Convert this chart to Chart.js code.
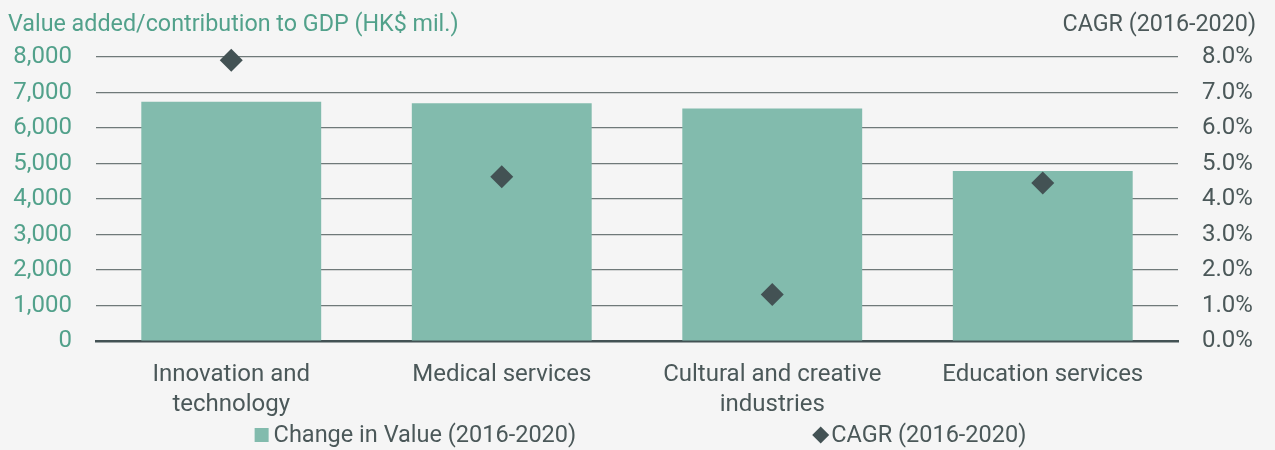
<!DOCTYPE html>
<html>
<head>
<meta charset="utf-8">
<script src="https://cdn.jsdelivr.net/npm/chart.js@4.4.1/dist/chart.umd.min.js"></script>
<style>
  html, body { margin: 0; padding: 0; background: #f5f5f5; }
  #wrap { width: 1275px; height: 450px; position: relative; }
</style>
</head>
<body>
<div id="wrap"><canvas id="gdpChart"></canvas></div>
<script>
// Sectors and their values
const categories = [
  ['Innovation and', 'technology'],
  'Medical services',
  ['Cultural and creative', 'industries'],
  'Education services'
];
const changeInValue = [6740, 6700, 6550, 4790];   // HK$ mil.
const cagr = [7.91, 4.63, 1.31, 4.45];             // %
const leftTicks = { min: 0, max: 8000, step: 1000 };
const rightTicks = { min: 0, max: 8, step: 1 };

const TEAL = '#82bbad';
const TEAL_TEXT = '#52a18b';
const DARK = '#435254';
const GREY_TEXT = '#4b5859';
const FONT = 'Roboto, "Liberation Sans", sans-serif';

// Axis titles and bottom legend
const extras = {
  id: 'extras',
  afterDraw(chart) {
    const ctx = chart.ctx;
    ctx.save();
    ctx.font = '23.3px ' + FONT;
    ctx.textBaseline = 'alphabetic';
    ctx.fillStyle = TEAL_TEXT;
    ctx.textAlign = 'left';
    ctx.fillText('Value added/contribution to GDP (HK$ mil.)', 8, 31);
    ctx.fillStyle = GREY_TEXT;
    ctx.textAlign = 'right';
    ctx.fillText('CAGR (2016-2020)', 1256, 31);

    // legend: bars first, then the diamonds
    const y = 435;
    const barSet = chart.data.datasets.find(d => d.type === 'bar');
    const dotSet = chart.data.datasets.find(d => d.type === 'line');
    ctx.font = '23.5px ' + FONT;
    ctx.textAlign = 'left';
    ctx.textBaseline = 'middle';
    const w1 = 19 + ctx.measureText(barSet.label).width;
    const w2 = 19 + ctx.measureText(dotSet.label).width;
    const gap = 236;
    let x = (chart.width - (w1 + gap + w2)) / 2 + 3;
    ctx.fillStyle = TEAL;
    ctx.fillRect(x, y - 7, 14, 14);
    ctx.fillStyle = GREY_TEXT;
    ctx.fillText(barSet.label, x + 19, y + 1);
    x += w1 + gap;
    ctx.fillStyle = DARK;
    ctx.beginPath();
    ctx.moveTo(x, y);
    ctx.lineTo(x + 8.5, y - 8.5);
    ctx.lineTo(x + 17, y);
    ctx.lineTo(x + 8.5, y + 8.5);
    ctx.closePath();
    ctx.fill();
    ctx.fillStyle = GREY_TEXT;
    ctx.fillText(dotSet.label, x + 19, y + 1);
    ctx.restore();
  }
};

new Chart(document.getElementById('gdpChart'), {
  data: {
    labels: categories,
    datasets: [
      {
        type: 'line',
        label: 'CAGR (2016-2020)',
        data: cagr,
        yAxisID: 'y1',
        showLine: false,
        clip: false,
        pointStyle: 'rectRot',
        pointRadius: 11.5,
        pointHoverRadius: 11.5,
        pointBackgroundColor: DARK,
        pointBorderColor: DARK,
        pointBorderWidth: 0,
        order: 1
      },
      {
        type: 'bar',
        label: 'Change in Value (2016-2020)',
        data: changeInValue,
        yAxisID: 'y',
        backgroundColor: TEAL,
        barPercentage: 0.665,
        categoryPercentage: 1,
        order: 2
      }
    ]
  },
  options: {
    responsive: true,
    maintainAspectRatio: false,
    animation: false,
    layout: { padding: { top: 57, left: 0, right: 0, bottom: 0 } },
    plugins: {
      legend: { display: false },
      tooltip: { enabled: false }
    },
    scales: {
      x: {
        grid: { display: false, drawTicks: false },
        border: { display: true, color: DARK, width: 2.5 },
        ticks: {
          padding: 19,
          color: GREY_TEXT,
          maxRotation: 0,
          font: { family: FONT, size: 24, lineHeight: 1.25 }
        },
        afterFit(scale) { scale.height = 109; }
      },
      y: {
        position: 'left',
        min: leftTicks.min,
        max: leftTicks.max,
        grid: {
          color: '#6f7979',
          lineWidth: 1.2,
          drawTicks: false
        },
        border: { display: false },
        ticks: {
          stepSize: leftTicks.step,
          padding: 24,
          color: TEAL_TEXT,
          font: { family: FONT, size: 24 },
          callback: v => v.toLocaleString('en-US')
        },
        afterFit(scale) { scale.width = 96; }
      },
      y1: {
        position: 'right',
        min: rightTicks.min,
        max: rightTicks.max,
        grid: { display: false, drawTicks: false },
        border: { display: false },
        ticks: {
          stepSize: rightTicks.step,
          padding: 24,
          color: GREY_TEXT,
          font: { family: FONT, size: 24 },
          callback: v => v.toFixed(1) + '%'
        },
        afterFit(scale) { scale.width = 97; }
      }
    }
  },
  plugins: [extras]
});
</script>
</body>
</html>
